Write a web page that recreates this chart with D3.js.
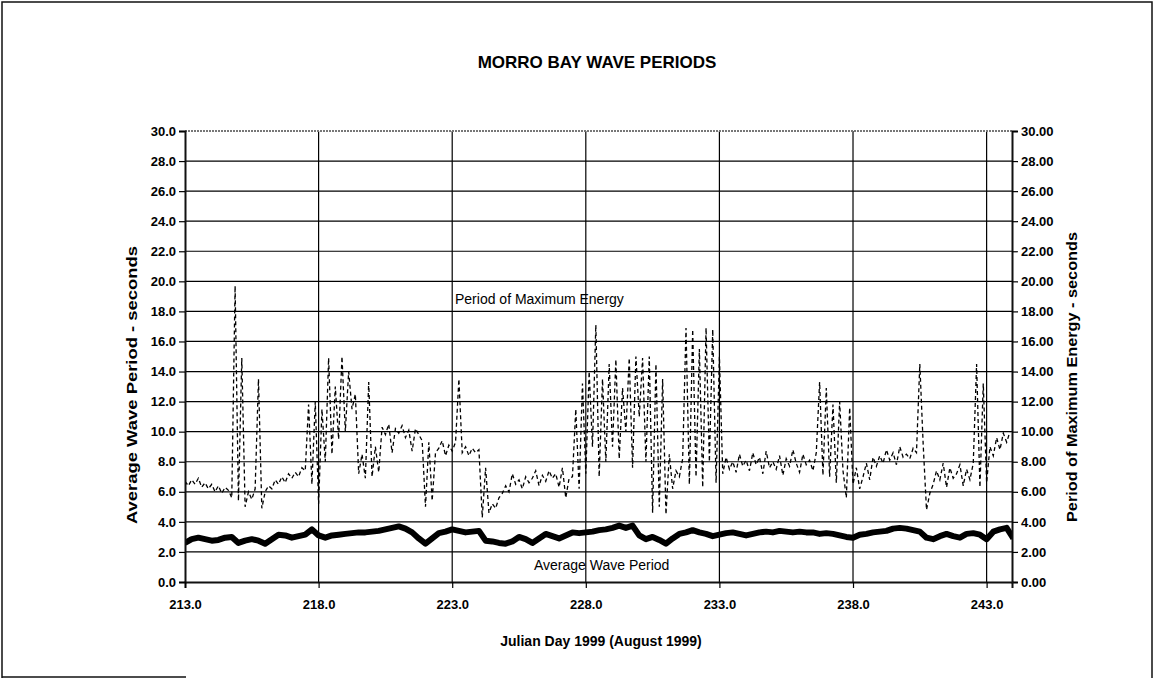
<!DOCTYPE html>
<html><head><meta charset="utf-8">
<script src="https://cdn.jsdelivr.net/npm/d3@7"></script>
<style>
body{margin:0;background:#fff}
svg{display:block}
text{font-family:"Liberation Sans",Arial,sans-serif;fill:#000}
</style>
</head><body>
<svg id="chart" width="1155" height="680"></svg>
<script>
// ---------- data ----------
const TITLE = "MORRO BAY WAVE PERIODS";
const X_LABEL = "Julian Day 1999 (August 1999)";
const Y_LEFT_LABEL = "Average Wave Period - seconds";
const Y_RIGHT_LABEL = "Period of Maximum Energy - seconds";
const SERIES_NAMES = ["Period of Maximum Energy", "Average Wave Period"];

const xTicks = [213, 218, 223, 228, 233, 238, 243];
const yTicks = [0, 2, 4, 6, 8, 10, 12, 14, 16, 18, 20, 22, 24, 26, 28, 30];
const dayRange = [213, 243.95];
const yRange = [0, 30];

// Average wave period, 4 readings per day starting day 213.0
const avgPerDay = 4;
const avgValues = [
  2.6, 2.85, 2.95, 2.85,  2.75, 2.8, 2.95, 3.0,   2.6, 2.75, 2.85, 2.75,
  2.55, 2.85, 3.15, 3.1,  2.95, 3.05, 3.15, 3.5,  3.1, 2.95, 3.1, 3.15,
  3.2, 3.25, 3.3, 3.3,    3.35, 3.4, 3.5, 3.6,    3.7, 3.55, 3.3, 2.9,
  2.55, 2.9, 3.25, 3.35,  3.5, 3.4, 3.3, 3.35,    3.4, 2.75, 2.7, 2.6,
  2.55, 2.7, 3.0, 2.85,   2.6, 2.9, 3.2, 3.05,    2.9, 3.1, 3.3, 3.25,
  3.3, 3.35, 3.45, 3.5,   3.6, 3.75, 3.6, 3.75,   3.1, 2.85, 3.0, 2.8,
  2.55, 2.9, 3.2, 3.3,    3.45, 3.3, 3.2, 3.05,   3.15, 3.25, 3.3, 3.2,
  3.1, 3.2, 3.3, 3.35,    3.3, 3.4, 3.35, 3.3,    3.35, 3.3, 3.3, 3.2,
  3.25, 3.2, 3.1, 3.0,    2.95, 3.15, 3.2, 3.3,   3.35, 3.4, 3.55, 3.6,
  3.55, 3.45, 3.35, 2.95, 2.85, 3.05, 3.2, 3.05,  2.95, 3.2, 3.25, 3.15,
  2.85, 3.35, 3.5, 3.6,   2.9
];

// Period of maximum energy, 8 readings per day starting day 213.0
const pmePerDay = 8;
const pmeValues = [
  6.7, 6.4, 6.8, 6.5, 6.9, 6.3, 6.6, 6.2,       // 213
  6.5, 6.0, 6.4, 5.9, 6.3, 6.1, 5.6, 19.7,      // 214
  5.4, 14.9, 5.0, 6.0, 5.5, 6.2, 13.5, 4.9,     // 215
  6.0, 6.4, 6.2, 6.8, 6.5, 7.0, 6.6, 7.2,       // 216
  6.9, 7.3, 7.0, 7.6, 7.4, 11.8, 6.5, 12.0,     // 217
  5.2, 11.5, 8.0, 14.9, 8.5, 13.0, 9.5, 15.0,   // 218
  10.0, 14.0, 11.5, 12.5, 7.2, 8.5, 6.9, 13.3,  // 219
  7.0, 9.0, 7.3, 10.3, 9.8, 10.5, 8.6, 10.2,    // 220
  9.9, 10.4, 9.6, 10.1, 8.7, 10.2, 9.8, 9.4,    // 221
  5.0, 9.3, 5.4, 8.6, 8.9, 9.4, 8.4, 9.1,       // 222
  8.7, 9.3, 13.5, 8.6, 9.0, 8.4, 8.9, 8.6,      // 223
  8.8, 4.3, 7.6, 4.6, 5.2, 4.9, 5.6, 5.9,       // 224
  6.4, 6.0, 7.2, 6.5, 6.8, 6.2, 7.0, 6.6,       // 225
  6.9, 7.4, 6.4, 7.1, 6.7, 7.4, 6.9, 7.2,       // 226
  6.3, 7.6, 5.6, 6.9, 7.0, 11.5, 6.2, 13.2,     // 227
  7.2, 14.0, 9.0, 17.1, 7.0, 13.5, 8.0, 14.5,   // 228
  9.0, 14.8, 8.2, 12.9, 10.0, 14.9, 7.6, 15.0,  // 229
  11.0, 14.9, 8.0, 15.0, 4.6, 14.5, 5.0, 13.5,  // 230
  4.5, 8.5, 6.2, 7.4, 7.0, 8.2, 16.9, 6.5,      // 231
  16.8, 7.0, 15.5, 6.3, 16.9, 8.0, 16.8, 6.6,   // 232
  15.0, 7.2, 8.3, 7.5, 8.0, 7.3, 8.5, 7.7,      // 233
  8.1, 7.4, 8.6, 7.8, 8.3, 7.2, 8.7, 7.6,       // 234
  8.0, 7.5, 8.4, 7.1, 8.2, 7.7, 8.8, 7.9,       // 235
  7.3, 8.5, 7.8, 8.1, 7.4, 8.6, 13.3, 7.1,      // 236
  12.9, 7.0, 11.8, 6.6, 12.0, 7.4, 5.6, 11.6,   // 237
  6.5, 7.6, 6.2, 7.0, 7.9, 6.8, 8.3, 7.7,       // 238
  8.4, 7.9, 8.8, 8.1, 8.6, 7.8, 9.0, 8.3,       // 239
  8.5, 8.2, 8.9, 8.6, 14.5, 9.2, 4.8, 5.9,      // 240
  6.5, 7.4, 6.8, 7.9, 6.3, 7.6, 6.9, 7.2,       // 241
  7.8, 6.4, 7.5, 6.8, 7.9, 14.5, 6.3, 13.2,     // 242
  6.6, 9.0, 8.4, 9.6, 8.8, 9.9, 9.3, 10.0       // 243
];

// ---------- layout ----------
const W = 1155, H = 680;
const plot = {left: 185, right: 1012, top: 131, bottom: 582};
const FONT = '"Liberation Sans", Arial, sans-serif';

const svg = d3.select("#chart");
svg.append("rect").attr("width", W).attr("height", H).attr("fill", "#fff");

// outer frame
const frame = svg.append("g").attr("stroke", "#111").attr("stroke-width", 1.5).attr("fill", "none");
frame.append("path").attr("d", `M2,${H-2} L2,2 L${W-3},2 L${W-3},${H-2}`);
frame.append("line").attr("x1", 2).attr("x2", 186).attr("y1", H-3).attr("y2", H-3);

const x = d3.scaleLinear().domain(dayRange).range([plot.left, plot.right]);
const yL = d3.scaleLinear().domain(yRange).range([plot.bottom, plot.top]);
const yR = d3.scaleLinear().domain(yRange).range([plot.bottom, plot.top]);

svg.append("clipPath").attr("id", "clip").append("rect")
  .attr("x", plot.left).attr("y", plot.top)
  .attr("width", plot.right - plot.left).attr("height", plot.bottom - plot.top);

// gridlines
const grid = svg.append("g");
grid.selectAll("line.h").data(yTicks.filter(v => v > 0 && v < 30)).join("line")
  .attr("x1", plot.left).attr("x2", plot.right)
  .attr("y1", d => yL(d)).attr("y2", d => yL(d))
  .attr("stroke", "#000").attr("stroke-width", 1.2);
grid.selectAll("line.v").data(xTicks.filter(d => d > 213)).join("line")
  .attr("x1", d => x(d)).attr("x2", d => x(d))
  .attr("y1", plot.top).attr("y2", plot.bottom)
  .attr("stroke", "#000").attr("stroke-width", 1.2);

// series
const dataG = svg.append("g").attr("clip-path", "url(#clip)");
const pmePts = pmeValues.map((v, i) => [dayRange[0] + i / pmePerDay, v]);
const avgPts = avgValues.map((v, i) => [dayRange[0] + i / avgPerDay, v]);

dataG.append("path").datum(pmePts)
  .attr("fill", "none").attr("stroke", "#000").attr("stroke-width", 1.3)
  .attr("stroke-dasharray", "4,3")
  .attr("d", d3.line().x(d => x(d[0])).y(d => yR(d[1])));

dataG.append("path").datum(avgPts)
  .attr("fill", "none").attr("stroke", "#000").attr("stroke-width", 6)
  .attr("stroke-linejoin", "round")
  .attr("d", d3.line().x(d => x(d[0])).y(d => yL(d[1])));

// plot top border (gray, hatched)
svg.append("line").attr("x1", plot.left).attr("x2", plot.right)
  .attr("y1", plot.top).attr("y2", plot.top)
  .attr("stroke", "#777").attr("stroke-width", 2).attr("stroke-dasharray", "2,1");

// axes
const axL = svg.append("g").attr("transform", `translate(${plot.left},0)`)
  .call(d3.axisLeft(yL).tickValues(yTicks).tickFormat(d3.format(".1f")).tickSize(6).tickPadding(3));
const axR = svg.append("g").attr("transform", `translate(${plot.right},0)`)
  .call(d3.axisRight(yR).tickValues(yTicks).tickFormat(d3.format(".2f")).tickSize(6).tickPadding(3));
const axB = svg.append("g").attr("transform", `translate(0,${plot.bottom})`)
  .call(d3.axisBottom(x).tickValues(xTicks).tickFormat(d3.format(".1f")).tickSize(6).tickPadding(12));

[axL, axR, axB].forEach(a => {
  a.select(".domain").attr("stroke", "#111").attr("stroke-width", 2);
  a.selectAll(".tick line").attr("stroke", "#000").attr("stroke-width", 1.2);
  a.selectAll(".tick text").attr("font-family", FONT).attr("font-size", 13)
    .attr("font-weight", "bold").attr("fill", "#000");
});

// titles
svg.append("text").attr("x", 597).attr("y", 68).attr("text-anchor", "middle")
  .attr("font-size", 17).attr("font-weight", "bold").text(TITLE);
svg.append("text").attr("x", 601).attr("y", 646).attr("text-anchor", "middle")
  .attr("font-size", 14).attr("font-weight", "bold").text(X_LABEL);
svg.append("text").attr("transform", "translate(137,385) rotate(-90)")
  .attr("text-anchor", "middle").attr("font-size", 14).attr("font-weight", "bold")
  .attr("textLength", 278).attr("lengthAdjust", "spacingAndGlyphs").text(Y_LEFT_LABEL);
svg.append("text").attr("transform", "translate(1077,377) rotate(-90)")
  .attr("text-anchor", "middle").attr("font-size", 14).attr("font-weight", "bold")
  .attr("textLength", 290).attr("lengthAdjust", "spacingAndGlyphs").text(Y_RIGHT_LABEL);

// in-plot series labels
svg.append("text").attr("x", 455).attr("y", 304).attr("font-size", 14).text(SERIES_NAMES[0]);
svg.append("text").attr("x", 534).attr("y", 570).attr("font-size", 14).text(SERIES_NAMES[1]);
</script>
</body></html>
